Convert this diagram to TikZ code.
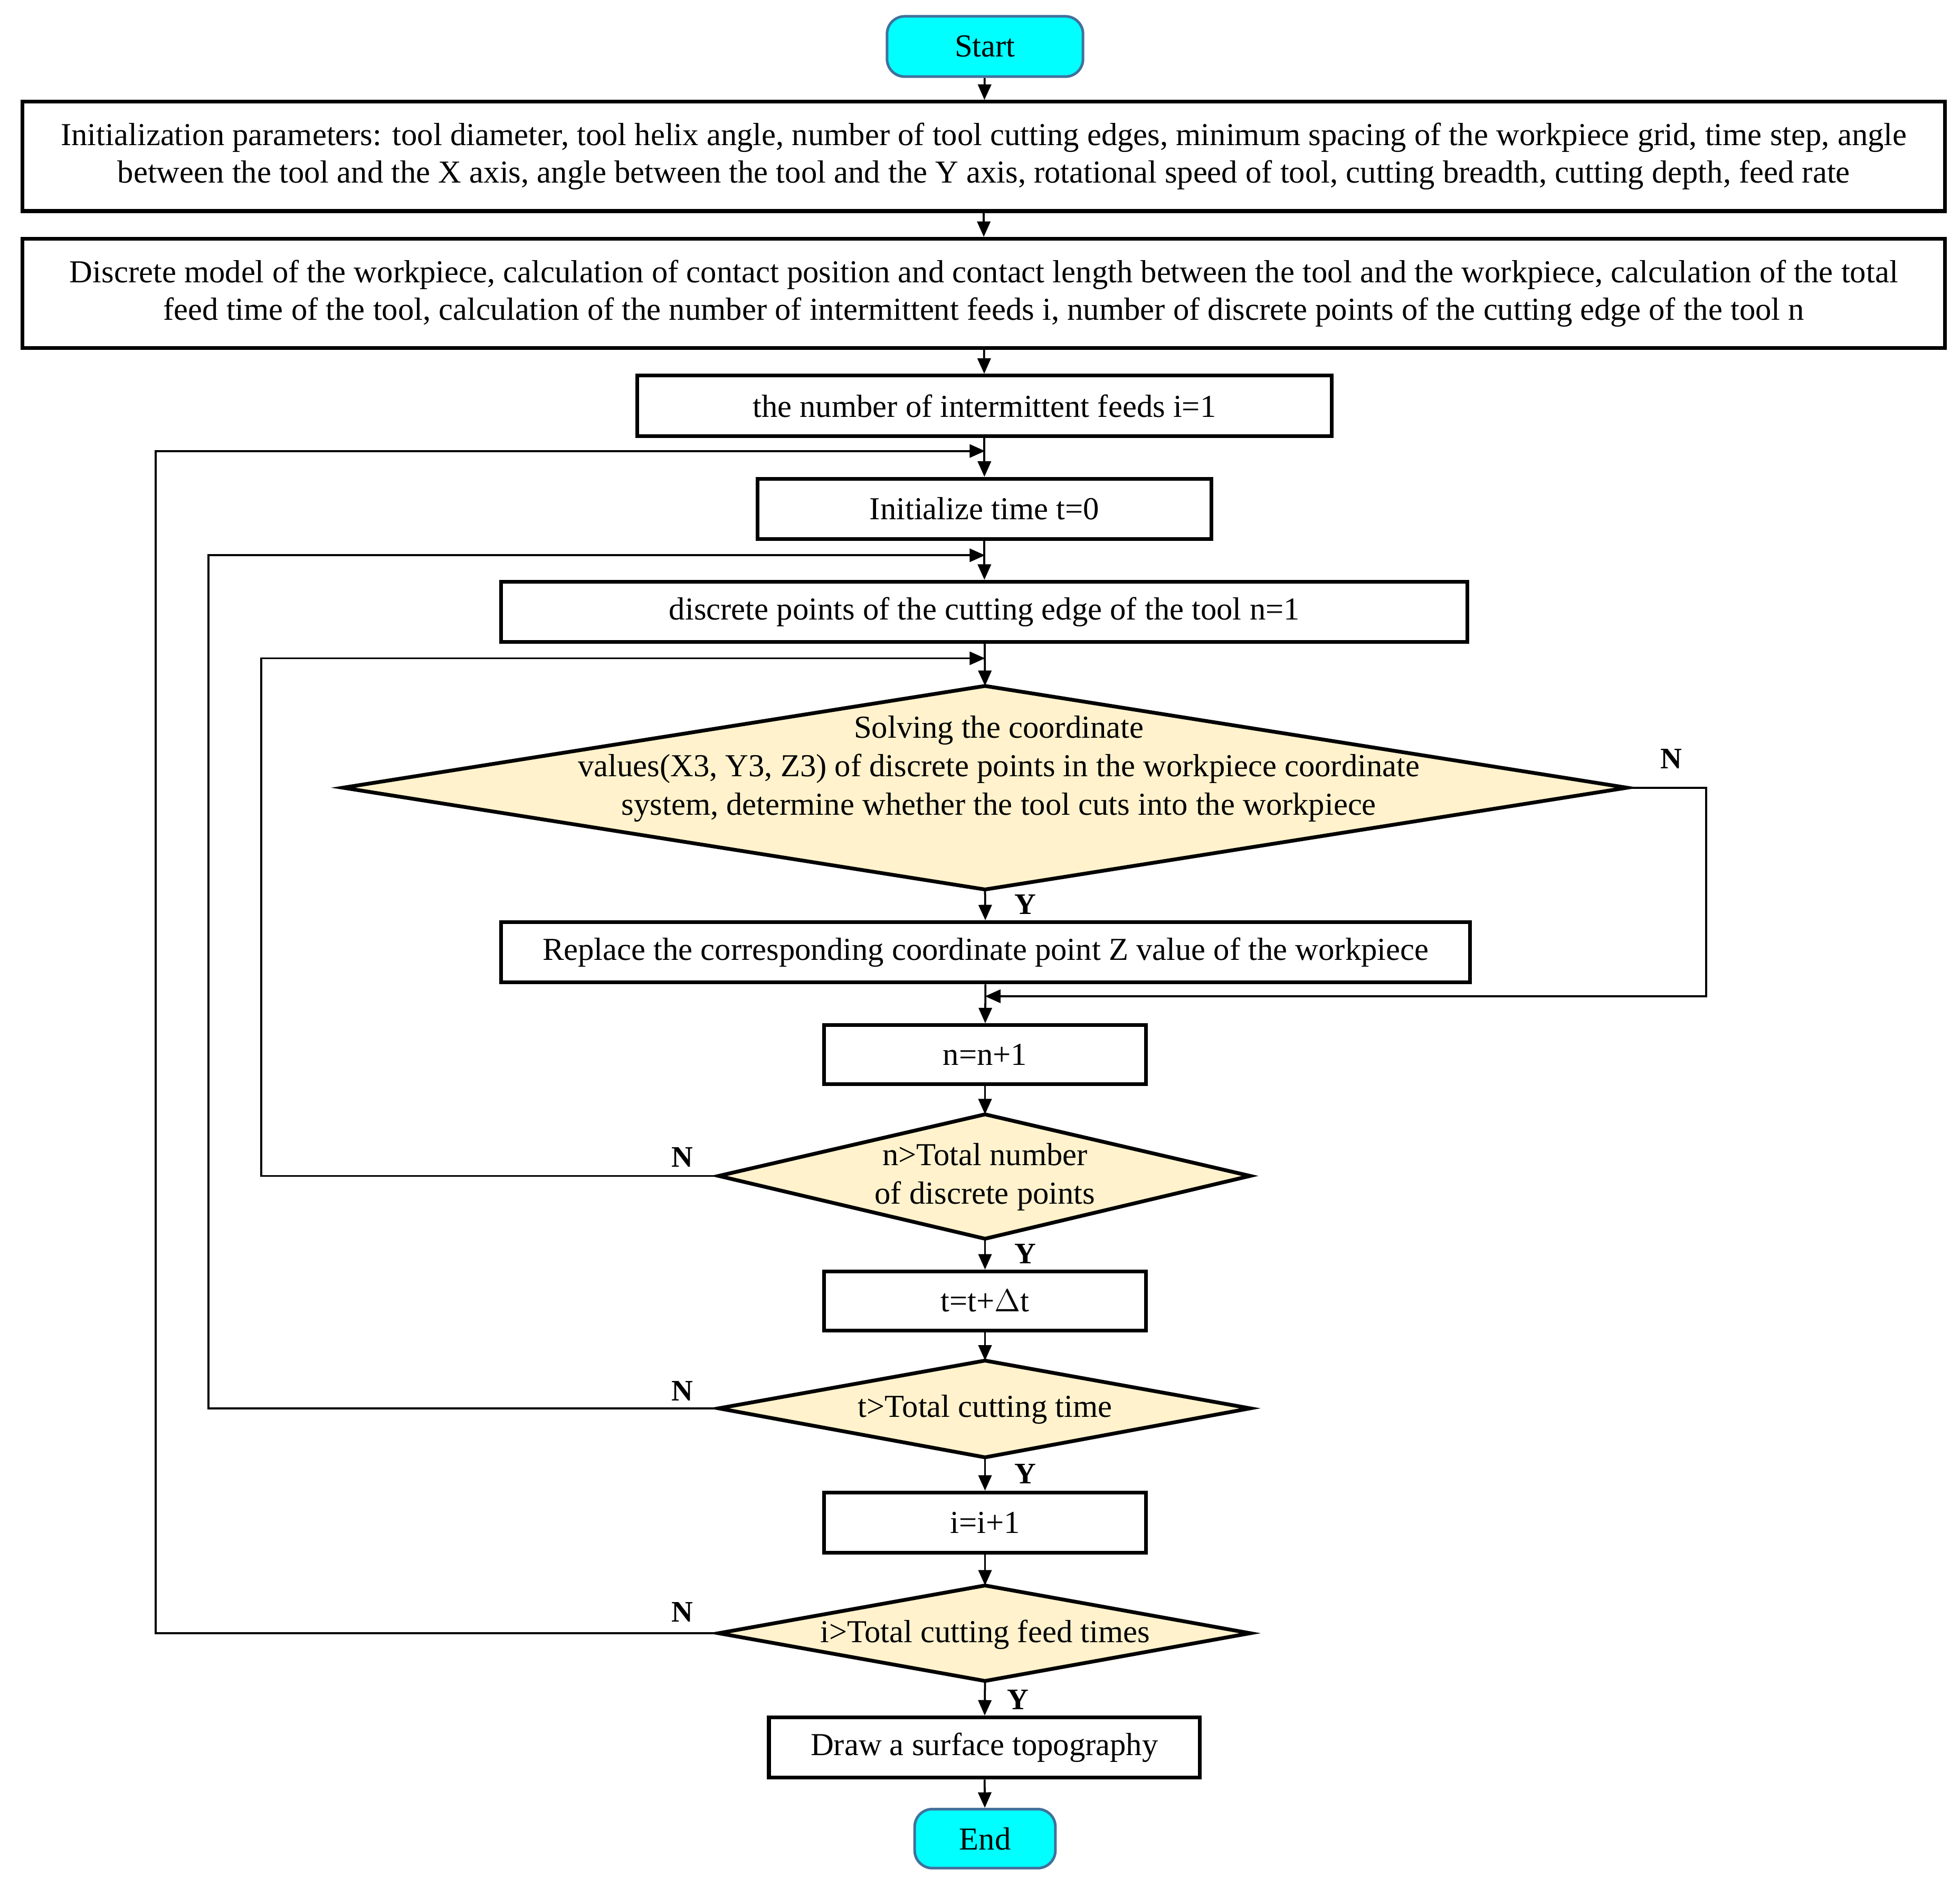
\documentclass[tikz,border=0pt]{standalone}
\usepackage{fontspec}
\setmainfont{Liberation Serif}
\usetikzlibrary{arrows.meta}
\definecolor{cy}{HTML}{00FFFF}
\definecolor{cyb}{HTML}{41719C}
\definecolor{dia}{HTML}{FFF2CC}
\begin{document}
\begin{tikzpicture}[x=0.02cm,y=-0.02cm,
 box/.style={draw,line width=1.7pt,inner sep=0pt,align=center,font=\fontsize{14.5}{17}\selectfont},
 term/.style={box,fill=cy,draw=cyb,rounded corners=8pt,line width=1.2pt},
 dtext/.style={inner sep=0pt,align=center,font=\fontsize{14.5}{17.5}\selectfont},
 dshape/.style={draw,line width=1.7pt,fill=dia},
 arr/.style={line width=0.9pt,-{Triangle[length=7pt,width=6pt]}},
 lab/.style={font=\bfseries\fontsize{13.5}{15}\selectfont}]
\useasboundingbox (0,0) rectangle (1560,1494);
\node[term,minimum width=156*0.02cm,minimum height=48*0.02cm] (start) at (784,37) {Start};
\node[box,minimum width=1530*0.02cm,minimum height=87*0.02cm] (init) at (783,124.5) {Initialization parameters: tool diameter, tool helix angle, number of tool cutting edges, minimum spacing of the workpiece grid, time step, angle\\ between the tool and the X axis, angle between the tool and the Y axis, rotational speed of tool, cutting breadth, cutting depth, feed rate};
\node[box,minimum width=1530*0.02cm,minimum height=87*0.02cm] (disc) at (783,233.5) {Discrete model of the workpiece, calculation of contact position and contact length between the tool and the workpiece, calculation of the total\\ feed time of the tool, calculation of the number of intermittent feeds i, number of discrete points of the cutting edge of the tool n};
\node[box,minimum width=553*0.02cm,minimum height=48*0.02cm] (num) at (783.5,323) {the number of intermittent feeds i=1};
\node[box,minimum width=361*0.02cm,minimum height=48*0.02cm] (ini) at (783.5,405) {Initialize time t=0};
\node[box,minimum width=769*0.02cm,minimum height=48*0.02cm] (nb) at (783.5,487) {discrete points of the cutting edge of the tool n=1};
% diamond 1
\coordinate (d1t) at (784,546); \coordinate (d1b) at (784,708);
\coordinate (d1l) at (273,627); \coordinate (d1r) at (1295,627);
\draw[dshape] (d1t)--(d1r)--(d1b)--(d1l)--cycle;
\node[dtext] (d1) at (795,612) {Solving the coordinate\\ values(X3, Y3, Z3) of discrete points in the workpiece coordinate\\ system, determine whether the tool cuts into the workpiece};
\node[box,minimum width=771*0.02cm,minimum height=48*0.02cm] (rep) at (784.5,758) {Replace the corresponding coordinate point Z value of the workpiece};
\node[box,minimum width=256*0.02cm,minimum height=47*0.02cm] (nn) at (784,839.5) {n=n+1};
% diamond 2
\coordinate (d2t) at (784,887); \coordinate (d2b) at (784,986);
\coordinate (d2l) at (572,936); \coordinate (d2r) at (995,936);
\draw[dshape] (d2t)--(d2r)--(d2b)--(d2l)--cycle;
\node[dtext] (d2) at (784,937) {n>Total number\\ of discrete points};
\node[box,minimum width=256*0.02cm,minimum height=47*0.02cm] (tt) at (784,1035.5) {t=t+$\Delta$t};
% diamond 3
\coordinate (d3t) at (784,1083); \coordinate (d3b) at (784,1160);
\coordinate (d3l) at (572,1121); \coordinate (d3r) at (995,1121);
\draw[dshape] (d3t)--(d3r)--(d3b)--(d3l)--cycle;
\node[dtext] (d3) at (784,1122) {t>Total cutting time};
\node[box,minimum width=256*0.02cm,minimum height=48*0.02cm] (ii) at (784,1212) {i=i+1};
% diamond 4
\coordinate (d4t) at (784,1262); \coordinate (d4b) at (784,1338);
\coordinate (d4l) at (572,1300); \coordinate (d4r) at (995,1300);
\draw[dshape] (d4t)--(d4r)--(d4b)--(d4l)--cycle;
\node[dtext] (d4) at (784,1301) {i>Total cutting feed times};
\node[box,minimum width=343*0.02cm,minimum height=48*0.02cm] (dr) at (783.5,1391) {Draw a surface topography};
\node[term,minimum width=112*0.02cm,minimum height=47*0.02cm] (end) at (784,1463.5) {End};
% junction coordinates
\coordinate (j1) at (784,359); \coordinate (j2) at (784,442);
\coordinate (j3) at (784,524); \coordinate (j4) at (784,793);
% main chain
\draw[arr] (start) -- (init);
\draw[arr] (init) -- (disc);
\draw[arr] (disc) -- (num);
\draw[arr] (num) -- (ini);
\draw[arr] (ini) -- (nb);
\draw[arr] (nb) -- (d1t);
\draw[arr] (d1b) -- (rep);
\draw[arr] (rep) -- (nn);
\draw[arr] (nn) -- (d2t);
\draw[arr] (d2b) -- (tt);
\draw[arr] (tt) -- (d3t);
\draw[arr] (d3b) -- (ii);
\draw[arr] (ii) -- (d4t);
\draw[arr] (d4b) -- (dr);
\draw[arr] (dr) -- (end);
% loops
\draw[arr] (d4l) -- (124,1300) -- (124,359) -- (j1);
\draw[arr] (d3l) -- (166,1121) -- (166,442) -- (j2);
\draw[arr] (d2l) -- (208,936) -- (208,524) -- (j3);
\draw[arr] (d1r) -- (1358,627) -- (1358,793) -- (j4);
% labels
\node[lab] at (1330,604) {N};
\node[lab] at (543,921) {N};
\node[lab] at (543,1107) {N};
\node[lab] at (543,1283) {N};
\node[lab] at (816,720) {Y};
\node[lab] at (816,998) {Y};
\node[lab] at (816,1173) {Y};
\node[lab] at (810,1353) {Y};
\end{tikzpicture}
\end{document}
